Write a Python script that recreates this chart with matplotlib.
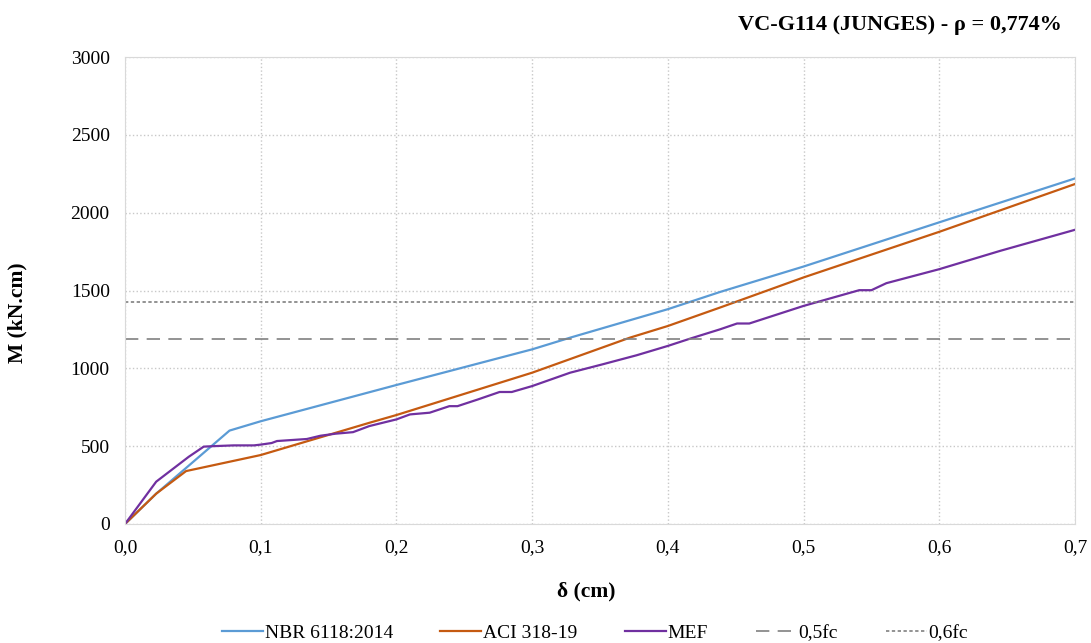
import matplotlib
matplotlib.use("Agg")
import matplotlib.pyplot as plt
from matplotlib.ticker import FuncFormatter, MultipleLocator

plt.rcParams['font.family'] = ['Liberation Serif', 'DejaVu Serif']

# Data
nbr_d = [0, 0.023, 0.077, 0.1, 0.2, 0.3, 0.328, 0.4, 0.424, 0.4386, 0.5, 0.6, 0.7]
nbr_m = [0, 195, 600, 660, 893, 1122, 1197, 1380, 1449, 1491, 1654, 1938, 2220]

aci_d = [0, 0.023, 0.045, 0.1, 0.18, 0.2, 0.3, 0.372, 0.4, 0.4386, 0.5, 0.6, 0.7]
aci_m = [0, 195, 340, 443, 650, 700, 972, 1197, 1272, 1391, 1584, 1877, 2184]

mef_d = [0, 0.023, 0.047, 0.058, 0.065, 0.08, 0.095, 0.1, 0.108, 0.112, 0.134, 0.144,
         0.155, 0.168, 0.18, 0.2, 0.21, 0.2245, 0.239, 0.245, 0.26, 0.276, 0.285, 0.3,
         0.328, 0.352, 0.377, 0.4, 0.4165, 0.4386, 0.451, 0.46, 0.5, 0.541, 0.55, 0.561,
         0.6, 0.645, 0.7]
mef_m = [0, 272, 432, 497, 500, 505, 505, 510, 520, 533, 546, 567,
         580, 590, 629, 672, 704, 715, 757, 757, 800, 848, 848, 886,
         972, 1026, 1084, 1144, 1191, 1251, 1288, 1288, 1401, 1502, 1502, 1547,
         1637, 1755, 1890]

fc05 = 1190
fc06 = 1428

series_labels = ['NBR 6118:2014', 'ACI 318-19', 'MEF', '0,5fc', '0,6fc']
title = 'VC-G114 (JUNGES) - ρ = 0,774%'
xlabel = 'δ (cm)'
ylabel = 'M (kN.cm)'

W, H = 1091, 643
fig = plt.figure(figsize=(W / 100, H / 100), dpi=100)
ax = fig.add_axes([125 / W, 1 - 524 / H, (1075 - 125) / W, (524 - 57) / H])

ax.plot(nbr_d, nbr_m, color='#5B9BD5', lw=1.6, label=series_labels[0])
ax.plot(aci_d, aci_m, color='#C55A11', lw=1.6, label=series_labels[1])
ax.plot(mef_d, mef_m, color='#7030A0', lw=1.6, label=series_labels[2])
ax.axhline(fc05, color='#808080', lw=1.2, ls=(0, (8, 5)), label=series_labels[3])
ax.axhline(fc06, color='#808080', lw=1.2, ls=(0, (2, 1.5)), label=series_labels[4])

ax.set_xlim(0, 0.7)
ax.set_ylim(0, 3000)
ax.xaxis.set_major_locator(MultipleLocator(0.1))
ax.yaxis.set_major_locator(MultipleLocator(500))
ax.xaxis.set_major_formatter(FuncFormatter(lambda v, p: f"{v:.1f}".replace('.', ',')))
ax.yaxis.set_major_formatter(FuncFormatter(lambda v, p: f"{int(round(v))}"))
ax.grid(True, color='#C8C8C8', ls=':', lw=1.0)
ax.set_axisbelow(True)
for s in ['top', 'right', 'left', 'bottom']:
    ax.spines[s].set_color('#D9D9D9')
ax.tick_params(length=0, labelsize=14, pad=11)

fig.text(586 / W, 1 - 591 / H, xlabel, ha='center', va='center', fontsize=15.5, fontweight='bold')
fig.text(17 / W, 1 - 313 / H, ylabel, ha='center', va='center', rotation=90,
         fontsize=15.5, fontweight='bold')
fig.text(1062 / W, 1 - 25 / H, title, ha='right', va='center', fontsize=16, fontweight='bold')

fig.legend(loc='center', bbox_to_anchor=(595 / W, 1 - 633 / H), ncol=5, frameon=False,
           fontsize=14, handlelength=2.1, handletextpad=0.1, columnspacing=2.45)

fig.savefig('out.png', dpi=100, facecolor='white')
